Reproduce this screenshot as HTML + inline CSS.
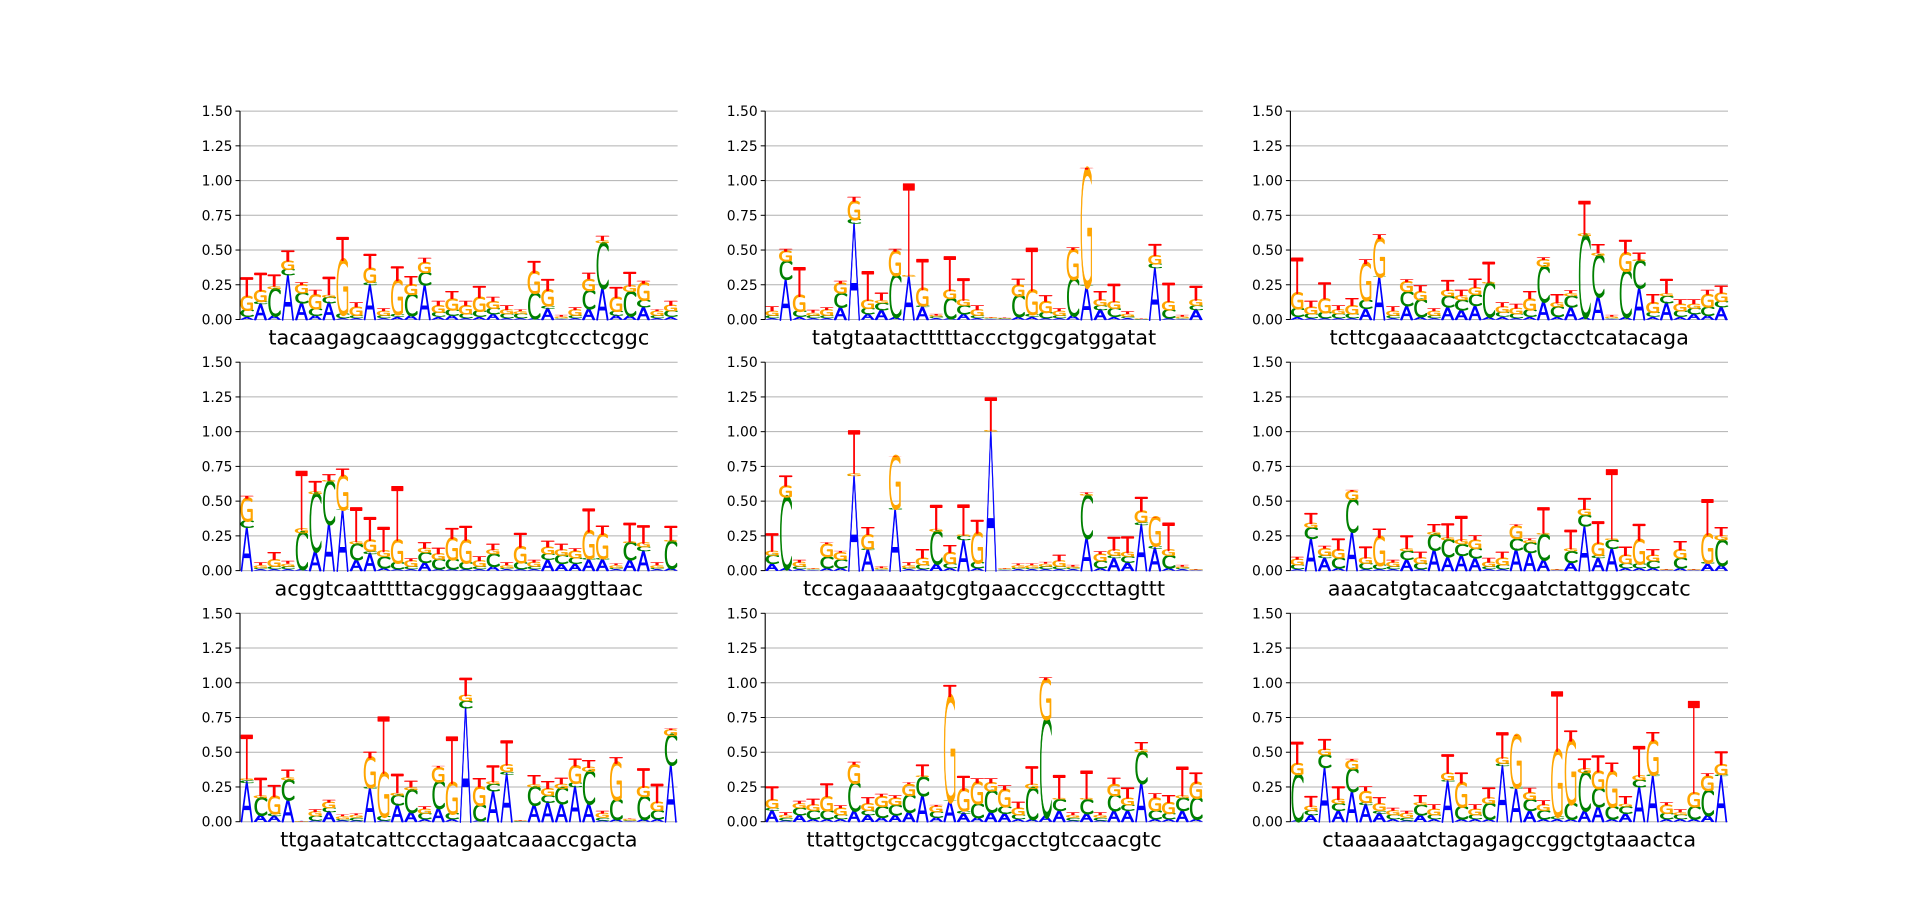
<!DOCTYPE html>
<html>
<head>
<meta charset="utf-8">
<style>
html,body{margin:0;padding:0;background:#fff;}
svg{display:block;}
</style>
</head>
<body>
<svg id="fig" width="1920" height="923" viewBox="0 0 1920 923" xmlns="http://www.w3.org/2000/svg"></svg>
<script>
const sequences = [
"tacaagagcaagcaggggactcgtccctcggc",
"tatgtaatactttttaccctggcgatggatat",
"tcttcgaaacaaatctcgctacctcatacaga",
"acggtcaatttttacgggcaggaaaggttaac",
"tccagaaaaatgcgtgaacccgcccttagttt",
"aaacatgtacaatccgaatctattgggccatc",
"ttgaatatcattccctagaatcaaaccgacta",
"ttattgctgccacggtcgacctgtccaacgtc",
"ctaaaaaatctagagagccggctgtaaactca"
];
const yTicks = [0, 0.25, 0.5, 0.75, 1.0, 1.25, 1.5];
const yTickLabels = ["0.00","0.25","0.50","0.75","1.00","1.25","1.50"];

const heightsA = [
[.02,.11,.03,.32,.12,.03,.12,.01,.01,.25,.01,.02,.03,.25,.02,.03,.01,.02,.04,.01,.01,.01,.08,.005,.01,.08,.23,.03,.03,.09,.01,.02],
[.01,.29,.02,.01,.01,.09,.69,.04,.07,.02,.31,.09,.01,.01,.04,.01,.005,.004,.02,.02,.01,.01,.03,.24,.07,.02,.01,.001,.37,.01,.005,.07],
[.02,.01,.01,.01,.01,.08,.31,.01,.1,.02,.01,.09,.07,.1,.02,.02,.01,.02,.13,.02,.09,.02,.17,.005,.02,.23,.02,.12,.02,.04,.03,.09],
[.31,.01,.01,.01,.01,.14,.34,.44,.08,.12,.02,.01,.01,.06,.01,.01,.01,.01,.03,.01,.01,.01,.08,.05,.05,.08,.08,.01,.08,.14,.01,.02],
[.05,.02,.01,.005,.02,.02,.68,.15,.005,.44,.01,.01,.05,.02,.22,.02,1.0,.005,.01,.01,.01,.01,.01,.24,.02,.09,.06,.33,.16,.02,.01,.003],
[.01,.23,.09,.02,.28,.01,.01,.01,.08,.01,.15,.1,.11,.09,.01,.01,.15,.13,.08,.003,.06,.32,.09,.16,.02,.02,.02,.003,.02,.003,.05,.04],
[.28,.05,.04,.16,.001,.01,.07,.01,.01,.24,.01,.12,.07,.02,.1,.02,.82,.01,.22,.34,.003,.12,.14,.13,.25,.13,.01,.02,.005,.02,.02,.41],
[.08,.01,.05,.02,.02,.02,.08,.05,.03,.05,.07,.19,.03,.15,.06,.03,.07,.06,.02,.02,.04,.08,.01,.06,.01,.08,.08,.28,.02,.02,.08,.02],
[.01,.05,.39,.08,.22,.12,.06,.02,.01,.05,.02,.29,.02,.02,.02,.4,.24,.08,.02,.02,.02,.08,.11,.02,.06,.25,.33,.02,.02,.02,.05,.33]
];
const heightsC = [
[.05,.02,.19,.04,.07,.05,.04,.03,.02,.02,.02,.02,.15,.09,.03,.04,.03,.04,.04,.03,.03,.18,.02,.005,.02,.13,.32,.03,.17,.05,.02,.04],
[.02,.13,.04,.02,.02,.1,.03,.04,.05,.3,.001,.01,.01,.14,.06,.02,.005,.004,.15,.02,.04,.02,.26,.001,.03,.06,.01,.001,.03,.06,.005,.03],
[.06,.03,.04,.03,.03,.06,.001,.02,.1,.12,.02,.08,.07,.08,.24,.03,.03,.05,.25,.07,.08,.58,.29,.005,.33,.19,.03,.05,.04,.04,.06,.04],
[.05,.01,.02,.02,.26,.41,.3,.001,.11,.02,.08,.05,.02,.07,.07,.07,.05,.02,.09,.01,.05,.02,.04,.06,.04,.01,.01,.01,.12,.03,.01,.19],
[.06,.51,.02,.005,.08,.06,.001,.01,.005,.01,.01,.03,.23,.03,.03,.04,.001,.005,.01,.01,.02,.02,.01,.3,.05,.02,.04,.02,.02,.09,.01,.003],
[.03,.08,.02,.07,.23,.04,.03,.02,.06,.04,.11,.12,.08,.07,.02,.03,.08,.07,.18,.003,.08,.08,.02,.06,.03,.03,.05,.003,.07,.003,.01,.18],
[.02,.12,.02,.14,.001,.03,.03,.01,.02,.01,.03,.07,.16,.04,.19,.04,.05,.11,.05,.02,.003,.13,.05,.11,.03,.23,.02,.14,.005,.16,.06,.21],
[.02,.02,.05,.06,.06,.03,.2,.03,.08,.07,.12,.13,.04,.001,.02,.1,.15,.05,.03,.22,.7,.08,.02,.1,.02,.11,.04,.22,.06,.04,.09,.15],
[.33,.03,.09,.05,.16,.02,.02,.03,.02,.07,.03,.01,.09,.03,.11,.02,.01,.08,.06,.02,.11,.27,.13,.09,.05,.05,.01,.04,.03,.09,.18,.01]
];
const heightsG = [
[.1,.08,.02,.06,.06,.1,.02,.39,.06,.1,.03,.24,.07,.07,.05,.08,.06,.1,.05,.03,.02,.15,.11,.01,.04,.08,.02,.1,.04,.12,.03,.04],
[.03,.07,.11,.02,.04,.07,.13,.06,.02,.17,.01,.12,.01,.06,.04,.04,.005,.004,.08,.17,.08,.03,.21,.84,.04,.05,.02,.001,.06,.06,.01,.04],
[.11,.05,.1,.03,.06,.26,.27,.03,.07,.06,.03,.04,.03,.05,.01,.04,.04,.08,.05,.03,.02,.02,.02,.01,.13,.01,.07,.02,.05,.03,.09,.06],
[.16,.02,.05,.02,.03,.02,.01,.24,.02,.08,.04,.16,.04,.03,.04,.15,.16,.04,.03,.02,.11,.03,.05,.04,.05,.19,.17,.02,.01,.03,.02,.01],
[.03,.08,.03,.005,.09,.05,.02,.1,.01,.37,.02,.05,.02,.08,.01,.21,.01,.005,.02,.02,.02,.04,.01,.01,.05,.04,.03,.08,.2,.04,.01,.003],
[.04,.03,.05,.06,.06,.04,.2,.03,.02,.04,.02,.02,.03,.06,.03,.05,.09,.02,.01,.003,.02,.04,.09,.01,.06,.17,.04,.003,.06,.003,.2,.03],
[.01,.02,.12,.02,.001,.03,.04,.02,.02,.21,.31,.02,.02,.03,.1,.22,.04,.13,.02,.05,.003,.02,.05,.03,.12,.03,.03,.26,.01,.07,.06,.04],
[.06,.02,.03,.04,.1,.05,.13,.05,.07,.05,.08,.01,.04,.75,.15,.15,.06,.12,.05,.03,.28,.01,.02,.01,.02,.08,.05,.02,.09,.08,.02,.11],
[.08,.03,.04,.03,.06,.08,.05,.03,.03,.02,.04,.05,.17,.04,.04,.04,.37,.05,.04,.47,.45,.03,.12,.25,.02,.03,.24,.06,.02,.1,.1,.07]
];
const heightsT = [
[.13,.12,.08,.07,.02,.03,.12,.16,.03,.1,.02,.1,.06,.03,.03,.05,.03,.08,.03,.03,.01,.08,.08,.01,.02,.04,.03,.07,.1,.02,.01,.03],
[.03,.02,.2,.02,.02,.02,.03,.2,.05,.02,.65,.21,.01,.24,.15,.03,.005,.004,.04,.3,.04,.02,.02,.01,.06,.12,.02,.001,.08,.13,.01,.1],
[.25,.04,.11,.03,.05,.03,.03,.03,.02,.04,.02,.07,.04,.06,.14,.03,.03,.05,.02,.06,.02,.23,.06,.01,.09,.05,.06,.1,.03,.03,.03,.05],
[.02,.02,.05,.02,.41,.07,.04,.05,.24,.16,.17,.38,.02,.04,.04,.07,.1,.03,.04,.02,.1,.02,.04,.04,.02,.16,.06,.01,.13,.12,.02,.1],
[.12,.07,.02,.005,.01,.01,.3,.05,.01,.005,.02,.06,.17,.05,.21,.09,.23,.005,.01,.01,.01,.04,.01,.01,.02,.09,.11,.1,.005,.19,.01,.003],
[.02,.07,.02,.08,.01,.08,.06,.02,.09,.04,.05,.1,.17,.03,.03,.04,.01,.01,.18,.003,.13,.08,.15,.49,.06,.11,.04,.003,.06,.003,.25,.06],
[.31,.12,.08,.05,.001,.02,.02,.01,.01,.04,.4,.13,.04,.02,.01,.33,.12,.06,.11,.17,.003,.06,.05,.04,.05,.05,.02,.04,.005,.13,.13,.01],
[.09,.02,.02,.04,.09,.02,.02,.04,.02,.02,.01,.08,.01,.08,.1,.03,.03,.03,.04,.12,.02,.16,.02,.19,.02,.04,.07,.05,.03,.05,.2,.07],
[.15,.07,.07,.09,.01,.03,.04,.02,.02,.05,.03,.13,.07,.03,.07,.18,.001,.03,.03,.42,.07,.07,.11,.06,.05,.21,.06,.02,.02,.65,.02,.09]
];

const svg = document.getElementById('fig');
const NS = 'http://www.w3.org/2000/svg';
const colX = [240, 765.2, 1290.4];
const rowTop = [111.1, 362.2, 613.3];
const AX_W = 437.6, AX_H = 208.4, Y_MAX = 1.5;
const letters = ['A','C','G','T'];
const colors = {A:'#0000ff', C:'#008000', G:'#ffa500', T:'#ff0000'};
const inkW = {A:64, C:58, G:62, T:58};
const seriesByLetter = {A:heightsA, C:heightsC, G:heightsG, T:heightsT};

function mk(tag, attrs, parent){
  const e = document.createElementNS(NS, tag);
  for (const k in attrs) e.setAttribute(k, attrs[k]);
  (parent||svg).appendChild(e);
  return e;
}

for (let p = 0; p < 9; p++) {
  const x0 = colX[p % 3];
  const top = rowTop[Math.floor(p / 3)];
  const zero = top + AX_H;
  const yScale = v => zero - v / Y_MAX * AX_H;
  const L = sequences[p].length;
  const w = AX_W / L;
  const xScale = i => x0 + (i + 0.5) * w;

  const g = mk('g', {});
  
  

  yTicks.forEach((t, k) => {
    const gl = mk('line', {x1:x0, x2:x0+AX_W, y1:yScale(t), y2:yScale(t), stroke:'#b0b0b0', 'stroke-width':1}, g);
    
    
  });

  const lg = mk('g', {}, g);
  
  
  for (let i = 0; i < L; i++) {
    let cum = 0;
    letters.forEach(letter => {
      const v = seriesByLetter[letter][p][i];
      if (v <= 0) return;
      const yb = yScale(cum);
      const yt = yScale(cum + v);
      const hPx = Math.max(yb - yt, 0.3);
      cum += v;
      const sx = (0.86 * w) / inkW[letter];
      const sy = hPx / 73;
      const t = mk('text', {
        x:0, y:0, 'font-size':100, 'font-weight':200,
        'font-family':'"DejaVu Sans", "Liberation Sans", sans-serif',
        'text-anchor':'middle', fill:colors[letter],
        stroke:colors[letter], 'stroke-width':1.6, 'vector-effect':'non-scaling-stroke', 'stroke-linejoin':'round',
        transform:'translate(' + xScale(i).toFixed(2) + ',' + yb.toFixed(2) + ') scale(' + sx.toFixed(4) + ',' + sy.toFixed(5) + ')'
      }, lg);
      t.textContent = letter;
      
      
    });
  }

  const sp = mk('line', {x1:x0, x2:x0, y1:top, y2:zero, stroke:'#000', 'stroke-width':1.1}, g);
  
  

  yTicks.forEach((t, k) => {
    const y = yScale(t);
    const tk = mk('line', {x1:x0-4.5, x2:x0, y1:y, y2:y, stroke:'#000', 'stroke-width':1}, g);
    
    
    const lb = mk('text', {x:x0-7.5, y:y+5, 'font-size':13.9, 'font-family':'"DejaVu Sans", "Liberation Sans", sans-serif', 'text-anchor':'end', fill:'#000'}, g);
    lb.textContent = yTickLabels[k];
    
    
  });

  const xl = mk('text', {x:x0+AX_W/2, y:zero+25, 'font-size':20.8, 'font-family':'"DejaVu Sans", "Liberation Sans", sans-serif', 'text-anchor':'middle', fill:'#000'}, g);
  xl.textContent = sequences[p];
  
  
}
</script>
</body>
</html>
